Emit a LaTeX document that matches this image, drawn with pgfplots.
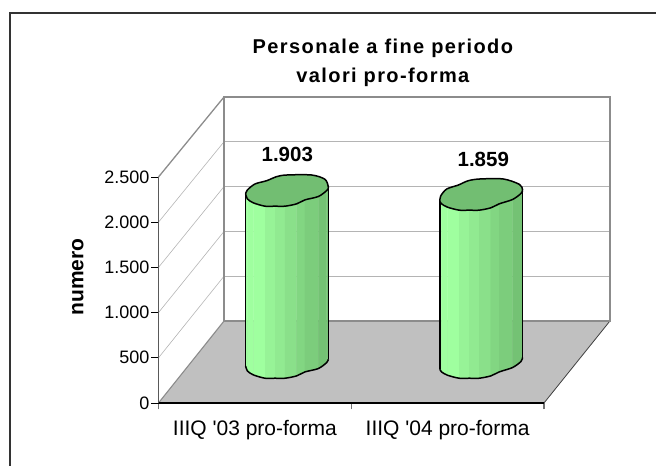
\documentclass[border=0pt]{standalone}
\usepackage{fontspec}
\setmainfont{Liberation Sans}
\newfontfamily\ttl[LetterSpace=7]{Liberation Sans}
\usepackage{pgfplots}
\pgfplotsset{compat=1.18}
\definecolor{sA}{HTML}{9FFF9F}
\definecolor{sB}{HTML}{97F397}
\definecolor{sC}{HTML}{91EA91}
\definecolor{sD}{HTML}{8AE08A}
\definecolor{sE}{HTML}{82D682}
\definecolor{sF}{HTML}{7CCD7C}
\definecolor{sG}{HTML}{74C274}
\definecolor{topc}{HTML}{72BE72}
\definecolor{floorc}{HTML}{C0C0C0}
\definecolor{wallc}{HTML}{8C8C8C}
\definecolor{gridc}{HTML}{B4B4B4}
% one band of a cylinder's side: x1 yb1 x2 yb2 value colour
\newcommand{\strip}[6]{%
  \pgfmathsetmacro\ytA{#2+#5}\pgfmathsetmacro\ytB{#4+#5}%
  \edef\tmp{\noexpand\addplot[forget plot,fill=#6,draw=#6,line width=0.3pt] coordinates {(#1,#2)(#1,\ytA)(#3,\ytB)(#3,#4)}}%
  \tmp -- cycle;%
}
\begin{document}
\begin{tikzpicture}[x=1bp,y=1bp]
\path[use as bounding box] (-158.5,-63) rectangle (497.5,403);
\begin{axis}[
  scale only axis, width=385.5bp, height=226bp,
  at={(0,0)}, anchor=south west,
  xmin=0, xmax=2, ymin=0, ymax=2500, clip=false,
  axis on top,
  axis x line*=bottom, axis y line*=left,
  x axis line style={black,line width=1.1bp},
  y axis line style={color=black!65,line width=1.5bp},
  tick align=outside,
  xtick={0.5,1.5},
  xticklabels={IIIQ \textquotesingle 03 pro-forma,IIIQ \textquotesingle 04 pro-forma},
  minor xtick={0,1,2},
  major x tick style={draw=none},
  minor x tick style={draw=black!55,line width=1.1bp},
  minor tick length=6.5bp,
  ytick={0,500,1000,1500,2000,2500},
  major tick length=7bp,
  major y tick style={black,line width=0.9bp},
  /pgf/number format/assume math mode=true,
  /pgf/number format/.cd,1000 sep={.},min exponent for 1000 sep=3,/tikz/.cd,
  yticklabel style={font=\fontsize{18bp}{20bp}\selectfont,inner sep=2bp},
  xticklabel style={font=\fontsize{21bp}{23bp}\selectfont,yshift=-6.5bp},
  ylabel={numero},
  ylabel style={at={(axis description cs:-0.209,0.5575)},anchor=center,font=\fontsize{21bp}{23bp}\selectfont\bfseries},
  every axis title shift=0pt,
  title={Personale a fine periodo\\valori pro-forma},
  title style={at={(axis description cs:0.582,1.507)},anchor=center,align=center,font=\ttl\fontsize{20bp}{29bp}\selectfont\bfseries},
]
% floor and walls
\addplot[forget plot,fill=floorc,draw=none] coordinates {(0,0)(2,0)(2.342,907)(0.34,907)} -- cycle;
\addplot[forget plot,black!75,line width=0.8bp] coordinates {(2,0)(2.342,907)};
\addplot[forget plot,gridc,line width=1bp] coordinates {(0.34,1403)(2.342,1403)};
\addplot[forget plot,gridc,line width=1bp] coordinates {(0.34,1898)(2.342,1898)};
\addplot[forget plot,gridc,line width=1bp] coordinates {(0.34,2394)(2.342,2394)};
\addplot[forget plot,gridc,line width=1bp] coordinates {(0.34,2890)(2.342,2890)};
\addplot[forget plot,gridc,line width=0.6bp] coordinates {(0,500)(0.34,1403)};
\addplot[forget plot,gridc,line width=0.6bp] coordinates {(0,1000)(0.34,1898)};
\addplot[forget plot,gridc,line width=0.6bp] coordinates {(0,1500)(0.34,2394)};
\addplot[forget plot,gridc,line width=0.6bp] coordinates {(0,2000)(0.34,2890)};
\addplot[forget plot,wallc,line width=1.5bp] coordinates {(0.34,907)(2.342,907)(2.342,3385)(0.34,3385)(0.34,907)};
\addplot[forget plot,wallc,line width=1.3bp] coordinates {(0,2500)(0.34,3385)};
\addplot[forget plot,wallc,line width=1.1bp] coordinates {(0,0)(0.34,907)};
% cylinder 1: 1903
\strip{0.4522}{410}{0.4609}{355}{1903}{sA}
\strip{0.4609}{355}{0.4920}{311}{1903}{sA}
\strip{0.4920}{311}{0.5525}{274}{1903}{sA}
\strip{0.5525}{274}{0.6044}{274}{1903}{sB}
\strip{0.6044}{274}{0.6563}{274}{1903}{sC}
\strip{0.6563}{274}{0.7168}{300}{1903}{sD}
\strip{0.7168}{300}{0.7600}{344}{1903}{sE}
\strip{0.7600}{344}{0.8292}{381}{1903}{sF}
\strip{0.8292}{381}{0.8725}{447}{1903}{sG}
\strip{0.8725}{447}{0.8811}{484}{1903}{sG}
\addplot[forget plot,black,line width=1.5bp] coordinates {(0.4522,410)(0.4522,2313)};
\addplot[forget plot,black,line width=1.5bp] coordinates {(0.8811,484)(0.8811,2387)};
\addplot[forget plot,smooth,black,line width=1.5bp] coordinates {(0.4522,410)(0.4609,355)(0.4920,311)(0.5525,274)(0.6044,274)(0.6563,274)(0.7168,300)(0.7600,344)(0.8292,381)(0.8725,447)(0.8811,484)};
\addplot[forget plot,smooth,fill=topc,draw=black,line width=1.5bp] table[x=x,y expr=\thisrow{off}+1903] {
x off
0.4522 410
0.4609 355
0.4920 311
0.5525 274
0.6044 274
0.6563 274
0.7168 300
0.7600 344
0.8292 381
0.8725 447
0.8811 484
0.8638 571
0.7946 619
0.6649 619
0.6130 601
0.5612 556
0.5007 520
0.4609 453
0.4522 410
};
% cylinder 2: 1859
\strip{1.4597}{374}{1.4684}{344}{1859}{sA}
\strip{1.4684}{344}{1.4995}{307}{1859}{sA}
\strip{1.4995}{307}{1.5600}{274}{1859}{sA}
\strip{1.5600}{274}{1.6119}{274}{1859}{sB}
\strip{1.6119}{274}{1.6638}{274}{1859}{sC}
\strip{1.6638}{274}{1.7243}{300}{1859}{sD}
\strip{1.7243}{300}{1.7675}{344}{1859}{sE}
\strip{1.7675}{344}{1.8367}{392}{1859}{sF}
\strip{1.8367}{392}{1.8800}{458}{1859}{sG}
\strip{1.8800}{458}{1.8886}{502}{1859}{sG}
\addplot[forget plot,black,line width=1.5bp] coordinates {(1.4597,374)(1.4597,2233)};
\addplot[forget plot,black,line width=1.5bp] coordinates {(1.8886,502)(1.8886,2361)};
\addplot[forget plot,smooth,black,line width=1.5bp] coordinates {(1.4597,374)(1.4684,344)(1.4995,307)(1.5600,274)(1.6119,274)(1.6638,274)(1.7243,300)(1.7675,344)(1.8367,392)(1.8800,458)(1.8886,502)};
\addplot[forget plot,smooth,fill=topc,draw=black,line width=1.5bp] table[x=x,y expr=\thisrow{off}+1859] {
x off
1.4597 374
1.4684 344
1.4995 307
1.5600 274
1.6119 274
1.6638 274
1.7243 300
1.7675 344
1.8367 392
1.8800 458
1.8886 502
1.8720 560
1.7889 619
1.6680 619
1.6073 600
1.5554 552
1.4952 508
1.4640 431
1.4597 374
};
% value labels
\addplot[only marks,mark=none,point meta=explicit symbolic,nodes near coords,
  every node near coord/.style={anchor=center,font=\fontsize{20.5bp}{22bp}\selectfont\bfseries}]
  table[x=x,y=y,meta=label] {
x y label
0.668 2751 1.903
1.685 2699 1.859
};
\end{axis}
\draw[black!80,line width=1.3bp] (-148.5,-63) -- (-148.5,390) -- (497.5,390);
\end{tikzpicture}
\end{document}
